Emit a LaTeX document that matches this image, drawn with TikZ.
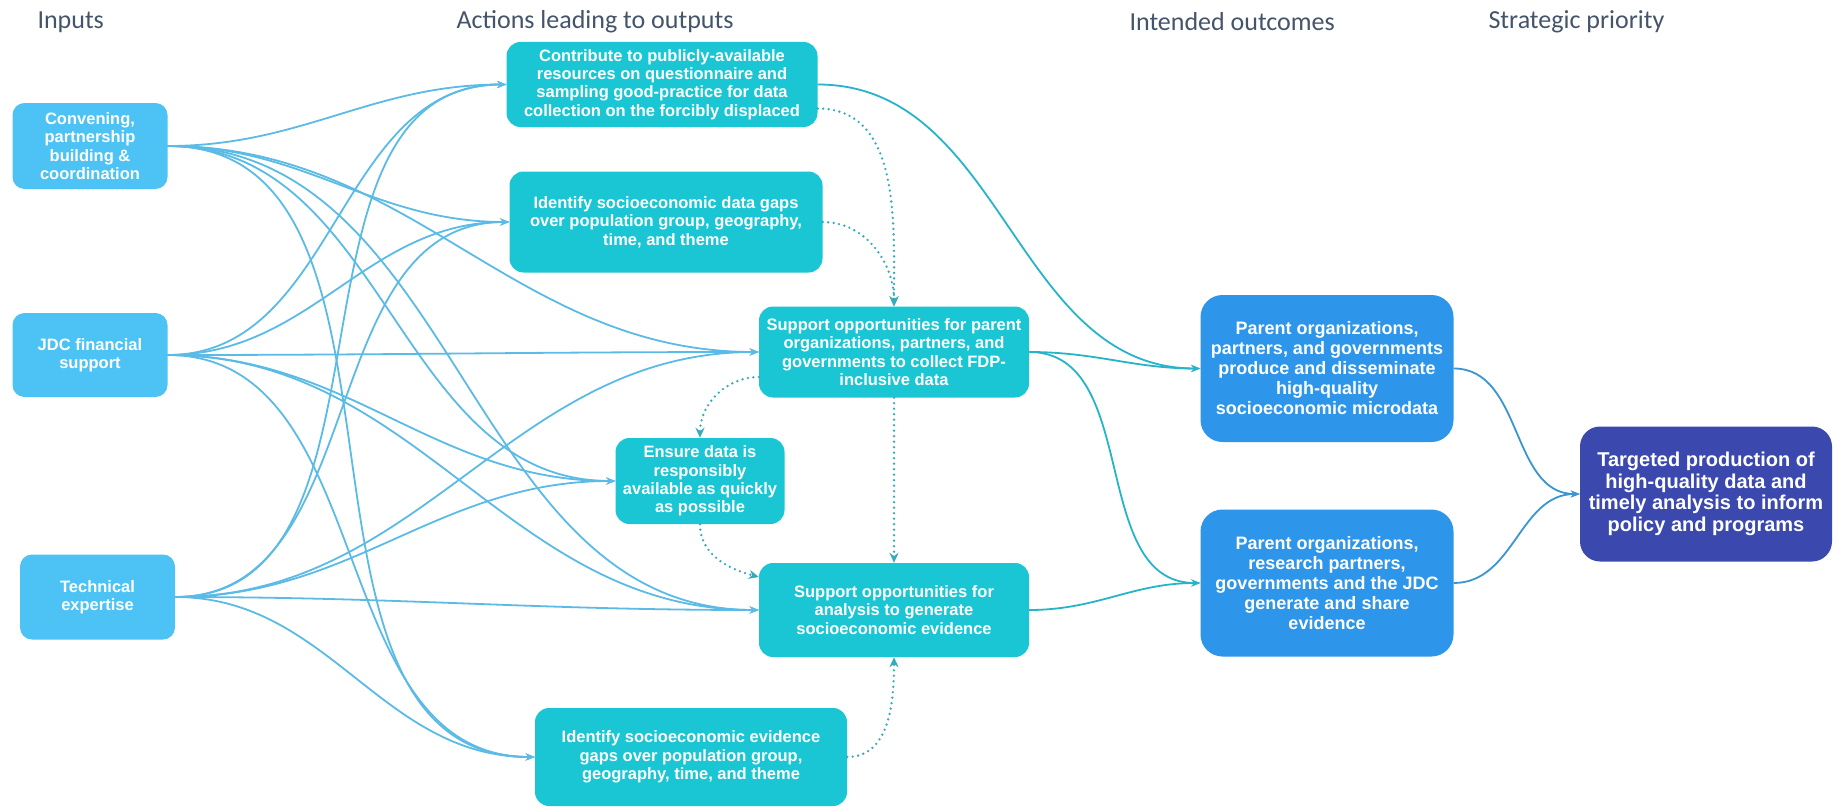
\documentclass[tikz,border=0pt]{standalone}
\usepackage{fontspec}
\setsansfont{Liberation Sans}
\newfontfamily\headfont{Carlito}
\usetikzlibrary{arrows.meta, positioning}

\definecolor{inputblue}{RGB}{77,195,245}
\definecolor{actionteal}{RGB}{26,198,211}
\definecolor{outcomeblue}{RGB}{45,149,234}
\definecolor{priorityblue}{RGB}{59,73,175}
\definecolor{feedline}{RGB}{91,187,230}
\definecolor{tealline}{RGB}{40,180,200}
\definecolor{dotline}{RGB}{55,170,190}
\definecolor{prioline}{RGB}{58,150,210}
\definecolor{headgrey}{RGB}{68,84,106}

\begin{document}
\begin{tikzpicture}[x=1pt, y=1pt,
    box/.style={rectangle, inner sep=0pt, align=center, text=white, font=\sffamily\bfseries\fontsize{16.5}{18.4}\selectfont},
    inbox/.style={box, fill=inputblue, rounded corners=12pt, minimum width=155pt},
    actbox/.style={box, fill=actionteal, rounded corners=14pt},
    outbox/.style={box, fill=outcomeblue, rounded corners=22pt, minimum width=253pt, minimum height=147pt, font=\sffamily\bfseries\fontsize{18}{20}\selectfont},
    heading/.style={anchor=west, text=headgrey, font=\headfont\fontsize{26}{30}\selectfont},
    feed/.style={draw=feedline, line width=1.8pt, -{Stealth[length=9pt,width=7pt]}},
    link/.style={draw=tealline, line width=1.8pt, -{Stealth[length=9pt,width=7pt]}},
    lead/.style={draw=prioline, line width=1.8pt, -{Stealth[length=9pt,width=7pt]}},
    follow/.style={draw=dotline, line width=2.6pt, line cap=round, dash pattern=on 0pt off 5.5pt, -{Stealth[length=10pt,width=9pt]}},
  ]
  \fill[white] (0,0) rectangle (1836,-808);
  \useasboundingbox (0,0) rectangle (1836,-808);

  \node[heading] (hin) at (34,-22) {Inputs};
  \node[heading] (hact) at (453,-22) {Actions leading to outputs};
  \node[heading] (hout) at (1126,-22) {Intended outcomes};
  \node[heading] (hprio) at (1485,-22) {Strategic priority};

  \node[inbox, minimum height=86pt] (conv) at (90,-146) {Convening,\\partnership\\building \&\\coordination};
  \node[inbox, minimum height=84pt] (jdc) at (90,-355) {JDC financial\\support};
  \node[inbox, minimum height=85pt] (tech) at (97.5,-597) {Technical\\expertise};

  \node[actbox, minimum width=311pt, minimum height=85pt] (act1) at (662,-84.5) {Contribute to publicly-available\\resources on questionnaire and\\sampling good-practice for data\\collection on the forcibly displaced};
  \node[actbox, minimum width=313pt, minimum height=101pt] (act2) at (666,-222) {Identify socioeconomic data gaps\\over population group, geography,\\time, and theme};
  \node[actbox, minimum width=270pt, minimum height=91pt] (act3) at (894,-352) {Support opportunities for parent\\organizations, partners, and\\governments to collect FDP-\\inclusive data};
  \node[actbox, minimum width=169pt, minimum height=86pt] (act4) at (700,-481) {Ensure data is\\responsibly\\available as quickly\\as possible};
  \node[actbox, minimum width=270pt, minimum height=94pt] (act5) at (894,-610) {Support opportunities for\\analysis to generate\\socioeconomic evidence};
  \node[actbox, minimum width=312pt, minimum height=98pt] (act6) at (691,-757) {Identify socioeconomic evidence\\gaps over population group,\\geography, time, and theme};

  \node[outbox] (out1) at (1327,-368.5) {Parent organizations,\\partners, and governments\\produce and disseminate\\high-quality\\socioeconomic microdata};
  \node[outbox] (out2) at (1327,-583) {Parent organizations,\\research partners,\\governments and the JDC\\generate and share\\evidence};
  \node[box, fill=priorityblue, rounded corners=20pt, minimum width=252pt, minimum height=135pt, font=\sffamily\bfseries\fontsize{20}{21.7}\selectfont] (prio) at (1706,-494) {Targeted production of\\high-quality data and\\timely analysis to inform\\policy and programs};

  \foreach \src in {conv,jdc,tech}
    \foreach \dst in {act1,act2,act3,act4,act5,act6}
      \draw[feed] (\src.east) to[out=0,in=180] (\dst.west);

  \draw[link] (act1.east) to[out=0,in=180] (out1.west);
  \draw[link] (act3.east) to[out=0,in=180] (out1.west);
  \draw[link] (act3.east) to[out=0,in=180] (out2.west);
  \draw[link] (act5.east) to[out=0,in=180] (out2.west);

  \draw[follow] ([yshift=-24pt]act1.east) to[out=0,in=90] (act3.north);
  \draw[follow] (act2.east) to[out=0,in=90] (act3.north);
  \draw[follow] ([yshift=-25pt]act3.west) to[out=180,in=90] (act4.north);
  \draw[follow] (act3.south) -- (act5.north);
  \draw[follow] (act4.south) to[out=-90,in=165] ([yshift=33pt]act5.west);
  \draw[follow] (act6.east) to[out=0,in=-90] (act5.south);

  \draw[lead] (out1.east) to[out=0,in=180] (prio.west);
  \draw[lead] (out2.east) to[out=0,in=180] (prio.west);
\end{tikzpicture}
\end{document}
